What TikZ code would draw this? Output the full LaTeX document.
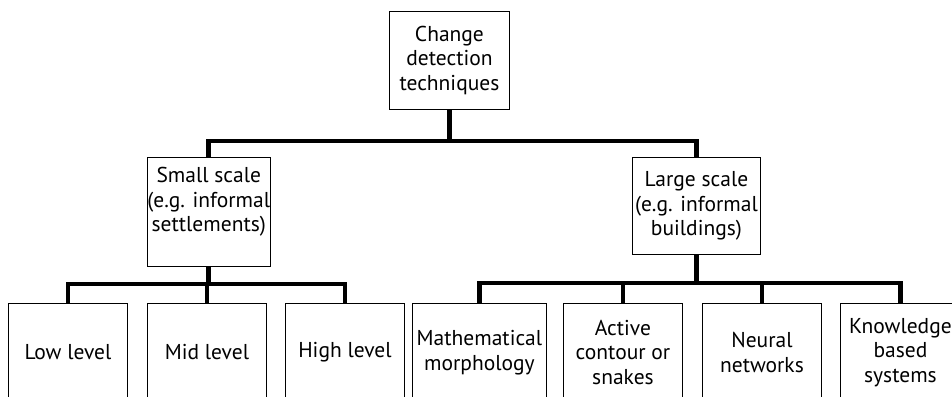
\documentclass[tikz,border=0pt]{standalone}
\usepackage{fontspec}
\setmainfont{PT Sans}
\usetikzlibrary{calc}

\begin{document}
\begin{tikzpicture}[x=1pt,y=-1pt,
  box/.style={draw,line width=0.9pt,anchor=north west,inner sep=0pt,align=center,font=\fontsize{21.5}{24.5}\selectfont},
  conn/.style={line width=4.5pt}]
\useasboundingbox (0,0) rectangle (952,396);
\clip (0,0) rectangle (952,396);
% root and the two scales
\node[box,minimum width=120pt,minimum height=98pt] (root) at (389,11) {Change\\detection\\techniques};
\node[box,minimum width=122pt,minimum height=109pt] (small) at (147,157) {Small scale\\(e.g. informal\\settlements)\\~};
\node[box,minimum width=128pt,minimum height=97pt] (large) at (632,157) {Large scale\\(e.g. informal\\buildings)};
% leaves
\node[box,minimum width=119pt,minimum height=98pt] (low) at (8,303) {Low level};
\node[box,minimum width=119pt,minimum height=98pt] (mid) at (147,303) {Mid level};
\node[box,minimum width=119pt,minimum height=98pt] (high) at (285,303) {High level};
\node[box,minimum width=134pt,minimum height=98pt] (math) at (412,303) {Mathematical\\morphology};
\node[box,minimum width=119pt,minimum height=98pt] (active) at (563,303) {Active\\contour or\\snakes};
\node[box,minimum width=119pt,minimum height=98pt] (neural) at (702,303) {Neural\\networks};
\node[box,minimum width=120pt,minimum height=98pt] (know) at (840,303) {Knowledge\\based\\systems};
% bars
\coordinate (rootbar) at (root.south |- 0,141);
\coordinate (smallbar) at (small.south |- 0,284);
\coordinate (largebar) at (large.south |- 0,283);
\draw[conn] (root.south) -- (rootbar);
\draw[conn] (small.north) |- (rootbar) -| (large.north);
\draw[conn] (small.south) -- (smallbar);
\draw[conn] (low.north) |- (smallbar) -| (high.north);
\draw[conn] (mid.north) -- (mid.north |- smallbar);
\draw[conn] (large.south) -- (largebar);
\draw[conn] (math.north) |- (largebar) -| (know.north);
\draw[conn] (active.north) -- (active.north |- largebar);
\draw[conn] (neural.north) -- (neural.north |- largebar);
\end{tikzpicture}
\end{document}
